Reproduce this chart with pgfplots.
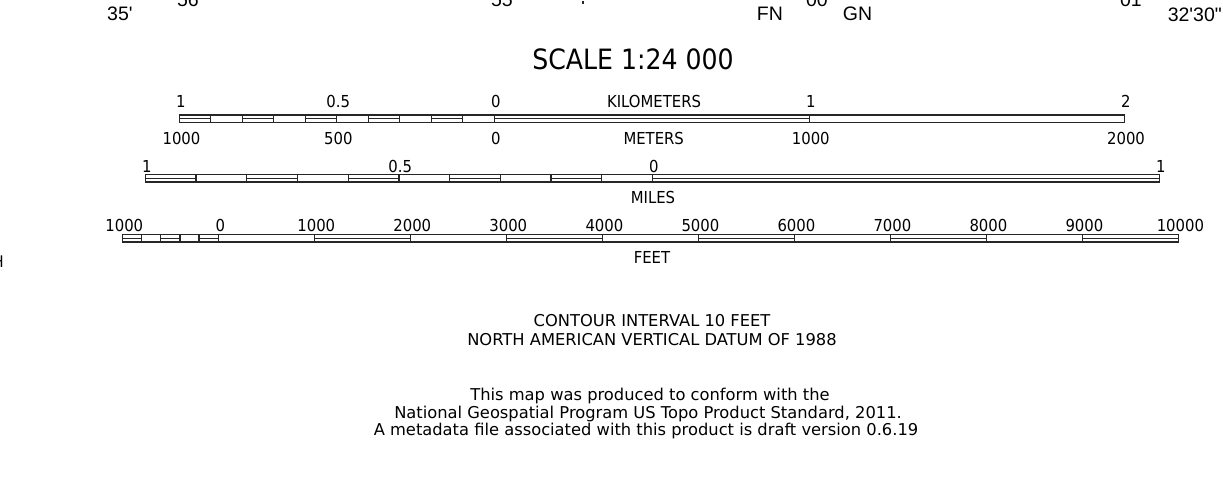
\documentclass[border=0pt]{standalone}
\usepackage{pgfplots}
\pgfplotsset{compat=1.18}
\usepackage{pgfplotstable}
\usepackage{fontspec}
\setmainfont{DejaVu Sans}[FakeStretch=0.9]
\newfontfamily\dv{DejaVu Sans}
\newfontfamily\arialf{Liberation Sans}[Ligatures=TeXOff]

\newcommand\lab{\fontsize{16.5}{18}\selectfont}
\newcommand\ftx{\dv\fontsize{16.3}{18}\selectfont}

% pixel scale of each bar (px per unit) and position of its zero
\def\pxkm{315}      \def\kmzero{494.3}
\def\pxmi{506.9}    \def\mizero{652.3}
\def\pxft{0.09601}  \def\ftzero{218.3}

\pgfplotstableread{
d y
-1 114.2
-0.9 114.2
-0.8 114.2
-0.7 114.2
-0.6 114.2
-0.5 114.2
-0.4 114.2
-0.3 114.2
-0.2 114.2
-0.1 114.2
0 114.2
1 114.2
2 114.2
}\kmdiv
\pgfplotstableread{
a b
-1 -0.9
-0.8 -0.7
-0.6 -0.5
-0.4 -0.3
-0.2 -0.1
0 1
}\kmfill
\pgfplotstableread{
d y
-1 174
-0.9 174
-0.8 174
-0.7 174
-0.6 174
-0.5 174
-0.4 174
-0.3 174
-0.2 174
-0.1 174
0 174
1 174
}\midiv
\pgfplotstableread{
a b
-1 -0.9
-0.8 -0.7
-0.6 -0.5
-0.4 -0.3
-0.2 -0.1
0 1
}\mifill
\pgfplotstableread{
d y
-1000 234
-800 234
-600 234
-400 234
-200 234
0 234
1000 234
2000 234
3000 234
4000 234
5000 234
6000 234
7000 234
8000 234
9000 234
10000 234
}\ftdiv
\pgfplotstableread{
a b
-1000 -800
-600 -400
-200 0
1000 2000
3000 4000
5000 6000
7000 8000
9000 10000
}\ftfill

\tikzset{sb/.style={draw=black!85, line width=1.3pt}}

\begin{document}
\begin{tikzpicture}
\begin{axis}[
  scale only axis, width=1223pt, height=503pt,
  xmin=0, xmax=1223, ymin=0, ymax=503, y dir=reverse,
  hide axis, clip=false,
]
\path (rel axis cs:0,0) rectangle (rel axis cs:1,1);

% ---------- kilometre bar
\addplot[sb] table[row sep=\\, x expr=\kmzero+\pxkm*(\thisrow{x}), y=y]
  {x y\\ -1 114.2\\ 2 114.2\\ 2 121.8\\ -1 121.8\\ -1 114.2\\};
\addplot[sb, quiver={u=0, v=7.6}] table[x expr=\kmzero+\pxkm*(\thisrow{d}), y=y] {\kmdiv};
\addplot[sb, quiver={u=\pxkm*(\thisrow{b}-\thisrow{a}), v=0}] table[x expr=\kmzero+\pxkm*(\thisrow{a}), y expr=118] {\kmfill};

% ---------- mile bar
\addplot[sb] table[row sep=\\, x expr=\mizero+\pxmi*(\thisrow{x}), y=y]
  {x y\\ -1 174\\ 1 174\\ 1 181.4\\ -1 181.4\\ -1 174\\};
\addplot[sb, quiver={u=0, v=7.4}] table[x expr=\mizero+\pxmi*(\thisrow{d}), y=y] {\midiv};
\addplot[sb, quiver={u=\pxmi*(\thisrow{b}-\thisrow{a}), v=0}] table[x expr=\mizero+\pxmi*(\thisrow{a}), y expr=177.7] {\mifill};

% ---------- feet bar
\addplot[sb] table[row sep=\\, x expr=\ftzero+\pxft*(\thisrow{x}), y=y]
  {x y\\ -1000 234\\ 10000 234\\ 10000 241.4\\ -1000 241.4\\ -1000 234\\};
\addplot[sb, quiver={u=0, v=7.4}] table[x expr=\ftzero+\pxft*(\thisrow{d}), y=y] {\ftdiv};
\addplot[sb, quiver={u=\pxft*(\thisrow{b}-\thisrow{a}), v=0}] table[x expr=\ftzero+\pxft*(\thisrow{a}), y expr=237.7] {\ftfill};

% ---------- cut-off map frame tick
\addplot[sb] coordinates {(583,0) (583,3.5)};

% ---------- title
\node[anchor=base, inner sep=0] at (axis cs:633,69) {\fontsize{28}{30}\selectfont SCALE 1:24 000};

% km labels
\node[anchor=base, inner sep=0] at (axis cs:180.8,107.3) {\lab 1};
\node[anchor=base, inner sep=0] at (axis cs:338.3,107.3) {\lab 0.5};
\node[anchor=base, inner sep=0] at (axis cs:495.8,107.3) {\lab 0};
\node[anchor=base, inner sep=0] at (axis cs:654,107.3) {\lab KILOMETERS};
\node[anchor=base, inner sep=0] at (axis cs:810.8,107.3) {\lab 1};
\node[anchor=base, inner sep=0] at (axis cs:1125.8,107.3) {\lab 2};
% metre labels
\node[anchor=base, inner sep=0] at (axis cs:181.5,144.3) {\lab 1000};
\node[anchor=base, inner sep=0] at (axis cs:338.3,144.3) {\lab 500};
\node[anchor=base, inner sep=0] at (axis cs:495.8,144.3) {\lab 0};
\node[anchor=base, inner sep=0] at (axis cs:653.7,144.3) {\lab METERS};
\node[anchor=base, inner sep=0] at (axis cs:810.8,144.3) {\lab 1000};
\node[anchor=base, inner sep=0] at (axis cs:1126,144.3) {\lab 2000};
% mile labels
\node[anchor=base, inner sep=0] at (axis cs:146.8,171.7) {\lab 1};
\node[anchor=base, inner sep=0] at (axis cs:400.3,171.7) {\lab 0.5};
\node[anchor=base, inner sep=0] at (axis cs:653.8,171.7) {\lab 0};
\node[anchor=base, inner sep=0] at (axis cs:1160.8,171.7) {\lab 1};
\node[anchor=base, inner sep=0] at (axis cs:653,203.3) {\lab MILES};
% feet labels
\node[anchor=base, inner sep=0] at (axis cs:124.3,230.7) {\lab 1000};
\node[anchor=base, inner sep=0] at (axis cs:220.3,230.7) {\lab 0};
\node[anchor=base, inner sep=0] at (axis cs:316.3,230.7) {\lab 1000};
\node[anchor=base, inner sep=0] at (axis cs:412.3,230.7) {\lab 2000};
\node[anchor=base, inner sep=0] at (axis cs:508.3,230.7) {\lab 3000};
\node[anchor=base, inner sep=0] at (axis cs:604.4,230.7) {\lab 4000};
\node[anchor=base, inner sep=0] at (axis cs:700.4,230.7) {\lab 5000};
\node[anchor=base, inner sep=0] at (axis cs:796.4,230.7) {\lab 6000};
\node[anchor=base, inner sep=0] at (axis cs:892.4,230.7) {\lab 7000};
\node[anchor=base, inner sep=0] at (axis cs:988.4,230.7) {\lab 8000};
\node[anchor=base, inner sep=0] at (axis cs:1084.4,230.7) {\lab 9000};
\node[anchor=base, inner sep=0] at (axis cs:1180.4,230.7) {\lab 10000};
\node[anchor=base, inner sep=0] at (axis cs:652,263) {\lab FEET};

% bottom notes
\node[anchor=base, inner sep=0] at (axis cs:652,326) {\ftx CONTOUR INTERVAL 10 FEET};
\node[anchor=base, inner sep=0] at (axis cs:652,344.5) {\ftx NORTH AMERICAN VERTICAL DATUM OF 1988};
\node[anchor=base, inner sep=0] at (axis cs:650,400) {\ftx This map was produced to conform with the};
\node[anchor=base, inner sep=0] at (axis cs:648,417.5) {\ftx National Geospatial Program US Topo Product Standard, 2011.};
\node[anchor=base, inner sep=0] at (axis cs:646,435) {\ftx A metadata file associated with this product is draft version 0.6.19};

% cut-off map margin texts
\node[anchor=base west, inner sep=0] at (axis cs:107,20) {\arialf\fontsize{19.5}{20}\selectfont 35'};
\node[anchor=base east, inner sep=0] at (axis cs:1222,21) {\arialf\fontsize{19.5}{20}\selectfont 32'30"};
\node[anchor=base west, inner sep=0] at (axis cs:756.7,20) {\arialf\fontsize{19.5}{20}\selectfont FN};
\node[anchor=base west, inner sep=0] at (axis cs:842.7,20) {\arialf\fontsize{19.5}{20}\selectfont GN};
\node[overlay, anchor=base east, inner sep=0] at (axis cs:199,6) {\arialf\fontsize{19.5}{20}\selectfont °56};
\node[overlay, anchor=base east, inner sep=0] at (axis cs:513,6) {\arialf\fontsize{19.5}{20}\selectfont °55};
\node[overlay, anchor=base east, inner sep=0] at (axis cs:828,6) {\arialf\fontsize{19.5}{20}\selectfont °00};
\node[overlay, anchor=base east, inner sep=0] at (axis cs:1142,6) {\arialf\fontsize{19.5}{20}\selectfont °01};
\node[overlay, anchor=base east, inner sep=0] at (axis cs:4,267) {\fontsize{16}{18}\selectfont H};
\end{axis}
\end{tikzpicture}
\end{document}
